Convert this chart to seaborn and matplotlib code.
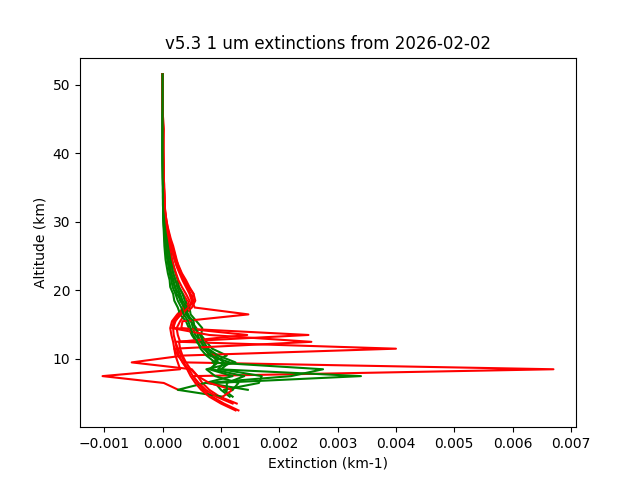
import numpy as np
import pandas as pd
import matplotlib
matplotlib.use("Agg")
import matplotlib.pyplot as plt
import seaborn as sns

title = "v5.3 1 um extinctions from 2026-02-02"
x_label = "Extinction (km-1)"
y_label = "Altitude (km)"

altitude_km = [2.5, 3.5, 4.5, 5.5, 6.5, 7.5, 8.5, 9.5, 10.5, 11.5,
               12.5, 13.5, 14.5, 15.5, 16.5, 17.5, 18.5, 19.5, 20.5, 21.5,
               22.5, 23.5, 24.5, 25.5, 26.5, 27.5, 28.5, 29.5, 30.5, 31.5,
               32.5, 33.5, 34.5, 35.5, 36.5, 37.5, 38.5, 39.5, 40.5, 41.5,
               42.5, 43.5, 44.5, 45.5, 46.5, 47.5, 48.5, 49.5, 50.5, 51.5]

# extinction values in units of 1e-4 km-1 (None = no data at that altitude)
red_1 = [13.0, 10.5, 8.5, 7.0, 6.0, 5.2, 67.0, 3.8, 3.2, 2.6,
         2.2, 1.9, 1.8, 2.2, 3.0, 4.5, 5.3, 4.8, 4.2, 3.8,
         3.2, 2.7, 2.4, 2.1, 1.8, 1.4, 1.1, 0.8, 0.6, 0.45,
         0.35, 0.3, 0.3, 0.25, 0.2, 0.2, 0.15, 0.15, 0.1, 0.1,
         0.1, 0.1, 0.1, 0.05, 0.05, 0.05, 0.0, 0.0, 0.0, 0.0]
red_2 = [None, None, None, 2.7, 0.2, -10.3, 3.0, 2.6, 2.2, 2.0,
         1.8, 1.5, 1.3, 1.6, 2.5, 3.6, 4.2, 3.5, 2.8, 2.2,
         1.8, 1.5, 1.3, 1.0, 0.8, 0.6, 0.5, 0.4, 0.3, 0.25,
         0.25, 0.2, 0.2, 0.2, 0.15, 0.15, 0.15, 0.1, 0.1, 0.1,
         0.15, 0.2, 0.1, 0.05, 0.05, 0.0, 0.0, 0.0, 0.0, 0.0]
red_3 = [None, 12.7, 9.8, 8.0, 6.8, 6.0, 5.0, -5.3, 3.6, 40.0,
         3.0, 2.6, 2.4, 3.0, 3.8, 5.0, 5.6, 5.3, 4.4, 3.6,
         3.0, 2.5, 2.1, 1.7, 1.4, 1.1, 0.9, 0.7, 0.5, 0.4,
         0.35, 0.3, 0.25, 0.25, 0.2, 0.2, 0.15, 0.1, 0.1, 0.1,
         0.1, 0.1, 0.05, 0.05, 0.05, 0.0, 0.0, 0.0, 0.0, 0.0]
red_4 = [12.5, 10.0, 8.0, 6.6, 5.6, 4.8, 4.2, 3.4, 2.8, 2.4,
         2.2, 25.0, 2.0, 1.8, 2.8, 4.0, 4.6, 4.0, 3.3, 2.7,
         2.3, 1.9, 1.6, 1.3, 1.1, 0.9, 0.7, 0.55, 0.4, 0.35,
         0.3, 0.3, 0.25, 0.2, 0.2, 0.15, 0.1, 0.1, 0.1, 0.1,
         0.1, 0.05, 0.05, 0.05, 0.0, 0.0, 0.0, 0.0, 0.0, 0.0]
red_5 = [None, None, 10.3, 12.0, 8.0, 6.0, 4.8, 4.0, 3.4, 3.0,
         2.8, 14.5, 3.2, 3.4, 14.7, 5.5, 5.0, 4.6, 4.0, 3.4,
         2.9, 2.4, 2.0, 1.7, 1.4, 1.1, 0.8, 0.6, 0.5, 0.4,
         0.35, 0.3, 0.25, 0.2, 0.2, 0.15, 0.15, 0.1, 0.1, 0.1,
         0.1, 0.1, 0.05, 0.05, 0.05, 0.0, 0.0, 0.0, 0.0, 0.0]
red_6 = [None, 12.0, 9.2, 7.4, 6.2, 5.2, 4.5, 3.5, 2.6, 2.0,
         25.5, 8.0, 1.6, 2.0, 3.2, 4.4, 5.0, 5.3, 4.6, 4.0,
         3.3, 2.8, 2.3, 2.0, 1.6, 1.3, 1.0, 0.8, 0.6, 0.45,
         0.3, 0.3, 0.25, 0.2, 0.15, 0.15, 0.1, 0.1, 0.1, 0.1,
         0.05, 0.05, 0.05, 0.05, 0.0, 0.0, 0.0, 0.0, 0.0, 0.0]

green_1 = [None, None, 11.5, 10.0, 9.0, 34.0, 9.5, 10.5, 9.0, 7.5,
           6.5, 6.0, 5.8, 4.8, 4.4, 3.6, 3.2, 2.4, 2.2, 1.7,
           1.5, 1.1, 0.9, 0.7, 0.5, 0.4, 0.3, 0.2, 0.15, 0.15,
           0.1, 0.1, 0.1, 0.05, 0.05, 0.05, 0.05, 0.0, 0.0, 0.0,
           0.0, 0.0, 0.0, 0.0, 0.0, 0.0, 0.0, 0.0, 0.0, 0.0]
green_2 = [None, None, None, 14.6, 7.5, 22.0, 27.5, 8.5, 11.0, 8.5,
           7.5, 6.6, 6.8, 5.8, 4.8, 4.6, 3.8, 3.4, 2.8, 2.6,
           2.2, 1.9, 1.6, 1.4, 1.1, 0.8, 0.6, 0.45, 0.3, 0.2,
           0.15, 0.1, 0.1, 0.1, 0.05, 0.05, 0.05, 0.05, 0.0, 0.0,
           0.0, 0.0, 0.0, 0.0, 0.0, 0.0, 0.0, 0.0, 0.0, 0.0]
green_3 = [None, None, 10.3, 2.6, 7.3, 12.0, 8.0, 9.5, 8.5, 7.0,
           5.8, 5.0, 4.5, 4.0, 3.0, 2.6, 2.0, 1.8, 1.3, 1.2,
           0.9, 0.7, 0.5, 0.4, 0.3, 0.25, 0.2, 0.15, 0.1, 0.1,
           0.1, 0.1, 0.05, 0.05, 0.05, 0.05, 0.0, 0.0, 0.0, 0.0,
           0.0, 0.0, 0.0, 0.0, 0.0, 0.0, 0.0, 0.0, 0.0, 0.0]
green_4 = [None, None, 12.0, 10.5, 16.5, 17.0, 10.0, 11.5, 8.0, 7.2,
           6.6, 5.6, 5.2, 4.9, 4.0, 3.8, 3.0, 2.8, 2.0, 1.9,
           1.4, 1.3, 1.0, 0.8, 0.6, 0.45, 0.35, 0.25, 0.2, 0.15,
           0.1, 0.1, 0.1, 0.05, 0.05, 0.05, 0.0, 0.0, 0.0, 0.0,
           0.0, 0.0, 0.0, 0.0, 0.0, 0.0, 0.0, 0.0, 0.0, 0.0]
green_5 = [None, None, None, 12.0, 13.0, 9.0, 7.5, 12.5, 9.5, 7.8,
           7.0, 6.4, 5.5, 5.3, 4.2, 4.2, 3.4, 3.0, 2.5, 2.2,
           1.8, 1.6, 1.3, 1.1, 0.9, 0.7, 0.5, 0.35, 0.25, 0.1,
           0.1, 0.05, 0.05, 0.05, 0.05, 0.0, 0.0, 0.0, 0.0, 0.0,
           0.0, 0.0, 0.0, 0.0, 0.0, 0.0, 0.0, 0.0, 0.0, 0.0]
green_6 = [None, None, None, 11.0, 11.0, 14.0, 8.5, 9.0, 7.5, 6.5,
           6.0, 5.2, 4.8, 4.4, 3.6, 3.2, 2.6, 2.2, 1.7, 1.5,
           1.2, 1.0, 0.8, 0.6, 0.45, 0.35, 0.25, 0.2, 0.15, 0.1,
           0.05, 0.05, 0.05, 0.05, 0.0, 0.0, 0.0, 0.0, 0.0, 0.0,
           0.0, 0.0, 0.0, 0.0, 0.0, 0.0, 0.0, 0.0, 0.0, 0.0]

profiles = [
    ("red_1", "red", red_1), ("green_1", "green", green_1),
    ("red_2", "red", red_2), ("green_2", "green", green_2),
    ("red_3", "red", red_3), ("green_3", "green", green_3),
    ("red_4", "red", red_4), ("green_4", "green", green_4),
    ("red_5", "red", red_5), ("green_5", "green", green_5),
    ("red_6", "red", red_6), ("green_6", "green", green_6),
]

rows = []
for name, color, vals in profiles:
    for alt, v in zip(altitude_km, vals):
        if v is not None:
            rows.append({"profile": name, "color": color,
                         "altitude": alt, "extinction": v * 1e-4})
df = pd.DataFrame(rows)

fig, ax = plt.subplots(figsize=(6.4, 4.8), dpi=100)
for name, color, _ in profiles:
    sub = df[df["profile"] == name]
    sns.lineplot(data=sub, x="extinction", y="altitude", sort=False,
                 estimator=None, color=color, linewidth=1.5, ax=ax)

ax.set_title(title)
ax.set_xlabel(x_label)
ax.set_ylabel(y_label)
fig.savefig("out.png", dpi=100)
